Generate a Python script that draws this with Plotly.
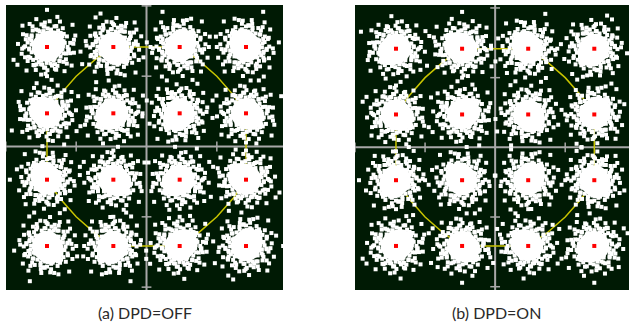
import math
import plotly.graph_objects as go

# 16-QAM ideal symbol grid
sym_i = [-3, -1, 1, 3] * 4
sym_q = [3] * 4 + [1] * 4 + [-1] * 4 + [-3] * 4

# yellow reference ring (trajectory)
ring_x = [-1, 1, 1.55, 2.12, 2.62, 3, 3, 2.62, 2.12, 1.55, 1, -1, -1.55, -2.12, -2.62, -3, -3, -2.62, -2.12, -1.55, -1]
ring_y = [3, 3, 2.62, 2.12, 1.55, 1, -1, -1.55, -2.12, -2.62, -3, -3, -2.62, -2.12, -1.55, -1, 1, 1.55, 2.12, 2.62, 3]

# axis tick positions
tick_pos = [-4.24, -2.12, 2.12, 4.24]

# noise-cloud offsets around each symbol (angle in degrees, radius in symbol units)
cloud_angle = [0, 7, 13, 22, 28, 35, 41, 50, 56, 63, 70, 77, 84, 90, 97, 104, 111, 118, 125, 131,
               139, 146, 152, 160, 167, 174, 181, 188, 195, 201, 208, 216, 223, 229, 236, 244, 251,
               258, 265, 271, 278, 285, 292, 299, 306, 313, 320, 327, 334, 341, 348, 354,
               3, 19, 32, 47, 60, 74, 88, 102, 115, 129, 143, 157, 171, 185, 199, 213, 227, 241,
               255, 269, 283, 297, 311, 325, 339, 353,
               10, 38, 66, 95, 122, 150, 178, 205, 233, 262, 290, 318, 345,
               25, 52, 80, 108, 136, 163, 192, 219, 247, 275, 303, 331, 358,
               15, 44, 71, 99, 127, 155, 184, 211, 239, 267, 295, 323, 350]
cloud_radius = [0.62, 0.80, 0.55, 0.92, 0.68, 0.57, 1.02, 0.74, 0.60, 0.86, 0.66, 0.54, 0.78, 1.12,
                0.62, 0.70, 0.90, 0.57, 0.76, 0.66, 0.98, 0.56, 0.82, 0.68, 0.60, 0.88, 0.70, 0.54,
                0.79, 1.08, 0.63, 0.72, 0.57, 0.94, 0.67, 0.77, 0.55, 0.85, 0.62, 0.70, 1.00, 0.58,
                0.74, 0.65, 0.90, 0.56, 0.78, 0.68, 1.18, 0.61, 0.83, 0.66,
                0.48, 0.53, 0.46, 0.58, 0.50, 0.44, 0.56, 0.49, 0.52, 0.45, 0.58, 0.51, 0.47, 0.54,
                0.49, 0.60, 0.46, 0.52, 0.55, 0.48, 0.51, 0.44, 0.57, 0.50, 0.53, 0.47,
                0.71, 0.64, 0.69, 0.74, 0.62, 0.71, 0.66, 0.73, 0.68, 0.63, 0.70, 0.67, 0.72,
                0.40, 0.43, 0.38, 0.42, 0.39, 0.44, 0.41, 0.37, 0.43, 0.40, 0.42, 0.38, 0.41,
                0.84, 0.59, 0.96, 0.63, 0.87, 0.58, 0.75, 1.04, 0.61, 0.81, 0.57, 0.93, 0.65]

# slight off-centre lobe of each dense core (angle deg, radius)
lobe_angle = 35
lobe_radius = 0.14

# orientation variant of the cloud for each symbol, per panel
variant_off = [0, 3, 5, 1, 6, 2, 7, 4, 1, 4, 2, 6, 3, 7, 0, 5]
variant_on = [2, 6, 1, 7, 4, 0, 3, 5, 7, 1, 5, 3, 0, 4, 6, 2]

captions = ["(a) DPD=OFF", "(b) DPD=ON"]

BG = "#001a04"
AXC = "#a8a8a8"


def place(cx, cy, v, angles, radii):
    s = -1 if v >= 4 else 1
    rot = 90 * (v % 4)
    xs, ys = [], []
    for a, r in zip(angles, radii):
        t = math.radians(s * a + rot)
        xs.append(cx + r * math.cos(t))
        ys.append(cy + r * math.sin(t))
    return xs, ys


def cloud_points(variants):
    xs, ys, lx, ly = [], [], [], []
    for cx, cy, v in zip(sym_i, sym_q, variants):
        px, py = place(cx, cy, v, cloud_angle, cloud_radius)
        xs += px
        ys += py
        qx, qy = place(cx, cy, v, [lobe_angle], [lobe_radius])
        lx += qx
        ly += qy
    return xs, ys, lx, ly


fig = go.Figure()

panels = [("x", "y", variant_off), ("x2", "y2", variant_on)]
for xa, ya, variants in panels:
    # axis cross
    fig.add_trace(go.Scatter(x=[-5, 5], y=[0, 0], mode="lines", line=dict(color=AXC, width=2),
                             xaxis=xa, yaxis=ya, hoverinfo="skip"))
    fig.add_trace(go.Scatter(x=[0, 0], y=[-5, 5], mode="lines", line=dict(color=AXC, width=2),
                             xaxis=xa, yaxis=ya, hoverinfo="skip"))
    fig.add_trace(go.Scatter(x=tick_pos, y=[0] * len(tick_pos), mode="markers",
                             marker=dict(symbol="line-ns-open", size=7, color=AXC, line=dict(color=AXC, width=1.5)),
                             xaxis=xa, yaxis=ya, hoverinfo="skip"))
    fig.add_trace(go.Scatter(x=[0] * len(tick_pos), y=tick_pos, mode="markers",
                             marker=dict(symbol="line-ew-open", size=7, color=AXC, line=dict(color=AXC, width=1.5)),
                             xaxis=xa, yaxis=ya, hoverinfo="skip"))
    # yellow ring
    fig.add_trace(go.Scatter(x=ring_x, y=ring_y, mode="lines", line=dict(color="#c8c400", width=1.5),
                             xaxis=xa, yaxis=ya, hoverinfo="skip"))
    cx, cy, lx, ly = cloud_points(variants)
    # dense cores
    fig.add_trace(go.Scatter(x=sym_i, y=sym_q, mode="markers",
                             marker=dict(symbol="circle", size=30, color="white", line=dict(width=0)),
                             xaxis=xa, yaxis=ya, hoverinfo="skip"))
    fig.add_trace(go.Scatter(x=lx, y=ly, mode="markers",
                             marker=dict(symbol="circle", size=28, color="white", line=dict(width=0)),
                             xaxis=xa, yaxis=ya, hoverinfo="skip"))
    # noise squares
    fig.add_trace(go.Scatter(x=cx, y=cy, mode="markers",
                             marker=dict(symbol="square", size=4, color="white", line=dict(width=0)),
                             xaxis=xa, yaxis=ya, hoverinfo="skip"))
    # ideal points
    fig.add_trace(go.Scatter(x=sym_i, y=sym_q, mode="markers",
                             marker=dict(symbol="square", size=4, color="#ff0000", line=dict(width=0)),
                             xaxis=xa, yaxis=ya, hoverinfo="skip"))

ax_common = dict(showgrid=False, zeroline=False, showticklabels=False, ticks="", showline=False, fixedrange=True)
cap_font = dict(family="Lato", size=16, color="#2a2a2a")
fig.update_layout(
    width=629, height=333,
    margin=dict(l=0, r=0, t=0, b=0),
    paper_bgcolor="white",
    plot_bgcolor=BG,
    showlegend=False,
    xaxis=dict(domain=[6 / 629, 283 / 629], range=[-4.236, 4.115], **ax_common),
    yaxis=dict(domain=[1 - 290 / 333, 1 - 5 / 333], range=[-4.326, 4.266], **ax_common),
    xaxis2=dict(domain=[355 / 629, 1.0], range=[-4.24, 4.05], anchor="y2", **ax_common),
    yaxis2=dict(domain=[1 - 290 / 333, 1 - 5 / 333], range=[-4.34, 4.33], anchor="x2", **ax_common),
    annotations=[
        dict(text=captions[0], x=145 / 629, y=1 - 312 / 333, xref="paper", yref="paper",
             xanchor="center", yanchor="middle", showarrow=False, font=cap_font),
        dict(text=captions[1], x=496 / 629, y=1 - 312 / 333, xref="paper", yref="paper",
             xanchor="center", yanchor="middle", showarrow=False, font=cap_font),
    ],
)

fig.write_html("out.html", post_script="document.body.style.margin='0';",
               config={"displayModeBar": False, "staticPlot": True})
